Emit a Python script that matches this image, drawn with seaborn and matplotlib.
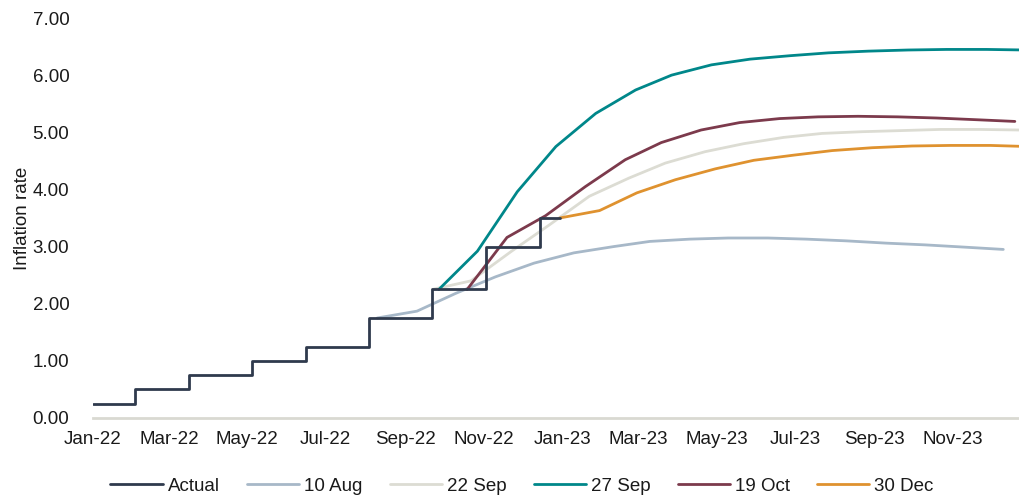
import pandas as pd
import numpy as np
import matplotlib
matplotlib.use("Agg")
import matplotlib.pyplot as plt
import matplotlib.dates as mdates
from matplotlib.ticker import FormatStrFormatter
import seaborn as sns

# ---- data ----
actual_dates = ["2022-01-01", "2022-02-03", "2022-03-17", "2022-05-05", "2022-06-16",
                "2022-08-04", "2022-09-22", "2022-11-03", "2022-12-15", "2022-12-30"]
actual_vals = [0.25, 0.50, 0.75, 1.00, 1.25, 1.75, 2.25, 3.00, 3.50, 3.50]

aug10_start = "2022-08-10"
aug10_vals = [1.75, 1.87, 2.18, 2.47, 2.71, 2.89, 3.00, 3.09, 3.13, 3.15, 3.15,
              3.13, 3.10, 3.06, 3.03, 2.99, 2.95]
sep22_start = "2022-09-22"
sep22_vals = [2.25, 2.40, 2.91, 3.38, 3.88, 4.20, 4.46, 4.66, 4.80, 4.91, 4.98,
              5.01, 5.03, 5.05, 5.05, 5.04]
sep27_start = "2022-09-27"
sep27_vals = [2.25, 2.92, 3.96, 4.75, 5.33, 5.74, 6.00, 6.18, 6.28, 6.34, 6.39,
              6.42, 6.44, 6.45, 6.45, 6.44]
oct19_start = "2022-10-19"
oct19_vals = [2.25, 3.16, 3.54, 4.05, 4.52, 4.82, 5.04, 5.17, 5.24, 5.27, 5.28,
              5.27, 5.25, 5.22, 5.19]
dec30_start = "2022-12-30"
dec30_vals = [3.50, 3.63, 3.94, 4.17, 4.36, 4.51, 4.60, 4.68, 4.73, 4.76, 4.77,
              4.77, 4.75]

series_names = ["10 Aug", "22 Sep", "27 Sep", "19 Oct", "30 Dec"]
series_starts = [aug10_start, sep22_start, sep27_start, oct19_start, dec30_start]
series_vals = [aug10_vals, sep22_vals, sep27_vals, oct19_vals, dec30_vals]

colors = {"Actual": "#2f3a4d", "10 Aug": "#a7b8c8", "22 Sep": "#dcdcd3",
          "27 Sep": "#00878a", "19 Oct": "#7c3a4c", "30 Dec": "#df922f"}

# ---- style ----
sns.set_theme(style="white")
plt.rcParams["font.family"] = ["Liberation Sans", "DejaVu Sans"]
fs = 13.5

fig = plt.figure(figsize=(10.2, 4.96), dpi=100)
ax = fig.add_axes([93 / 1020, 78 / 496, 927 / 1020, 400 / 496])

lw = 2.0
df_act = pd.DataFrame({"date": pd.to_datetime(actual_dates), "value": actual_vals})
sns.lineplot(data=df_act, x="date", y="value", ax=ax, color=colors["Actual"],
             lw=lw, drawstyle="steps-post", estimator=None, label="Actual",
             zorder=3)

for name, start, vals in zip(series_names, series_starts, series_vals):
    s = pd.Timestamp(start)
    dates = [s + pd.DateOffset(months=i) for i in range(len(vals))]
    d = pd.DataFrame({"date": dates, "value": vals})
    sns.lineplot(data=d, x="date", y="value", ax=ax, color=colors[name], lw=lw,
                 estimator=None, label=name, zorder=2)

x0 = pd.Timestamp("2022-01-01")
ax.set_xlim(x0, x0 + pd.Timedelta(days=721))
ax.set_ylim(0, 7)
ax.set_yticks(np.arange(0, 7.01, 1))
ax.yaxis.set_major_formatter(FormatStrFormatter("%.2f"))
ax.xaxis.set_major_locator(mdates.MonthLocator(bymonth=[1, 3, 5, 7, 9, 11]))
ax.xaxis.set_major_formatter(mdates.DateFormatter("%b-%y"))

for sp in ["top", "right", "left"]:
    ax.spines[sp].set_visible(False)
ax.spines["bottom"].set_color("#d9d9d2")
ax.spines["bottom"].set_linewidth(2)
ax.spines["bottom"].set_zorder(1)
ax.grid(False)
ax.tick_params(axis="both", length=0, labelsize=fs, colors="#1a1a1a")
ax.tick_params(axis="y", pad=17)
ax.tick_params(axis="x", pad=9)

ax.set_xlabel("")
ax.set_ylabel("Inflation rate", fontsize=fs, color="#1a1a1a")
ax.yaxis.set_label_coords(-0.067, 0.5)

handles, labels = ax.get_legend_handles_labels()
if ax.get_legend():
    ax.get_legend().remove()
fig.legend(handles, labels, loc="center", bbox_to_anchor=(522 / 1020, 10 / 496),
           ncol=6, frameon=False, fontsize=fs, handlelength=2.8,
           handletextpad=0.25, columnspacing=1.45, borderaxespad=0,
           labelcolor="#1a1a1a")

fig.savefig("out.png", dpi=100, facecolor="white")
